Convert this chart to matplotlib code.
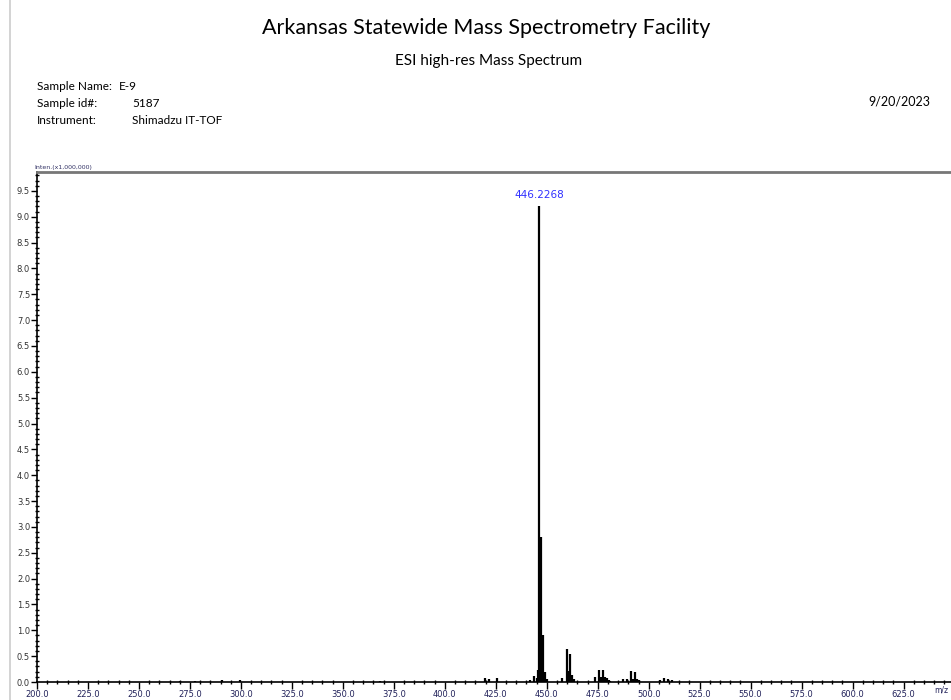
import matplotlib as mpl
mpl.use("agg")
import matplotlib.pyplot as plt
from matplotlib.lines import Line2D
from matplotlib.ticker import MultipleLocator, FormatStrFormatter

# centroided peaks: m/z and intensity (x1,000,000)
mz = [270.0, 277.5, 290.5, 299.5, 368.0,
      419.9, 421.9, 425.8,
      441.7, 443.8, 445.0, 445.8, 446.2268, 446.7, 447.23, 448.23, 449.2, 450.2,
      457.7, 459.7, 460.6, 461.6, 462.4, 463.2,
      473.7, 475.5, 476.5, 477.6, 478.6, 479.6, 480.4, 481.2,
      487.4, 489.6, 491.5, 492.5, 493.5, 494.5, 495.4,
      505.4, 507.4, 509.3, 511.3]
inten = [0.02, 0.02, 0.03, 0.03, 0.02,
         0.08, 0.05, 0.07,
         0.04, 0.12, 0.08, 0.23, 9.21, 0.3, 2.80, 0.91, 0.20, 0.05,
         0.08, 0.64, 0.21, 0.54, 0.14, 0.06,
         0.10, 0.23, 0.10, 0.23, 0.10, 0.08, 0.04, 0.02,
         0.05, 0.06, 0.21, 0.06, 0.19, 0.05, 0.04,
         0.04, 0.07, 0.06, 0.03]
base_label = "446.2268"
base_mz = 446.2268
base_int = 9.21

info_keys = ["Sample Name:", "Sample id#:", "Instrument:"]
info_vals = ["E-9", "5187", "Shimadzu IT-TOF"]

fig = plt.figure(figsize=(9.51, 7.0), dpi=100)
font = "Lato"

fig.text(486 / 951, 1 - 28 / 700, "Arkansas Statewide Mass Spectrometry Facility",
         ha="center", va="center", fontsize=15.5, family=font)
fig.text(489 / 951, 1 - 61 / 700, "ESI high-res Mass Spectrum",
         ha="center", va="center", fontsize=11, family=font)
for i, (k, v) in enumerate(zip(info_keys, info_vals)):
    y = 1 - (86 + i * 17.5) / 700
    fig.text(37 / 951, y, k, ha="left", va="center", fontsize=8.5, family=font)
    fig.text((119 if i == 0 else 132) / 951, y, v, ha="left", va="center",
             fontsize=8.5, family=font)
fig.text(930 / 951, 1 - 102 / 700, "9/20/2023", ha="right", va="center",
         fontsize=9, family=font)

# page border at left
fig.add_artist(Line2D([10 / 951, 10 / 951], [0, 1], color="#cccccc", lw=1.2))

ax = fig.add_axes([37 / 951, 18 / 700, 1 - 37 / 951, 510 / 700])
ax.vlines(mz, 0, inten, color="black", lw=1.6)
ax.set_xlim(200, 200 + (951 - 37) / 2.039)
ax.set_ylim(0, 510 / 51.7)

ax.text(base_mz, base_int + 0.12, base_label, color="#3030ff", ha="center",
        va="bottom", fontsize=7.5)

ax.spines["right"].set_visible(False)
ax.spines["top"].set_color("#777777")
ax.spines["top"].set_linewidth(2)
ax.spines["left"].set_linewidth(1.2)
ax.spines["bottom"].set_linewidth(1.2)

ax.xaxis.set_major_locator(MultipleLocator(25))
ax.xaxis.set_minor_locator(MultipleLocator(5))
ax.yaxis.set_major_locator(MultipleLocator(0.5))
ax.yaxis.set_minor_locator(MultipleLocator(0.1))
ax.xaxis.set_major_formatter(FormatStrFormatter("%.1f"))
ax.yaxis.set_major_formatter(FormatStrFormatter("%.1f"))
ax.tick_params(axis="x", which="major", direction="out", length=5, width=1,
               labelsize=6, labelcolor="#22225a", pad=1)
ax.tick_params(axis="x", which="minor", direction="inout", length=3, width=1)
ax.tick_params(axis="y", which="major", direction="out", length=4, width=1,
               labelsize=6, labelcolor="#333333", pad=1)
ax.tick_params(axis="y", which="minor", direction="inout", length=3, width=1)

ax.text(-0.003, 1.003, "Inten.(x1,000,000)", transform=ax.transAxes,
        fontsize=4.5, ha="left", va="bottom", color="#333366")
fig.text(948 / 951, 1 - 690 / 700, "m/z", fontsize=5.5, ha="right", va="center",
         color="#22225a")

plt.savefig("out.png", dpi=100)
